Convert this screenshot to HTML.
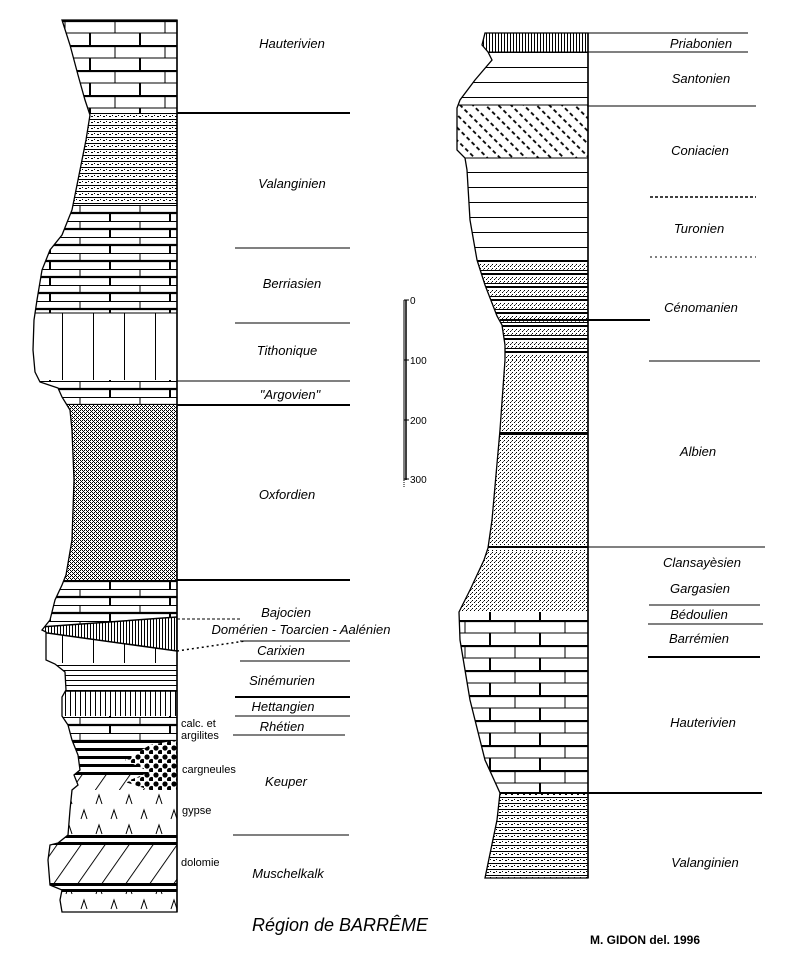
<!DOCTYPE html>
<html><head><meta charset="utf-8"><style>
html,body{margin:0;padding:0;background:#fff;}
svg{display:block;}
text{font-family:"Liberation Sans",sans-serif;}
.l{font-style:italic;font-size:13px;text-anchor:middle;}
.s{font-size:11px;}
</style></head><body>
<svg width="788" height="959" viewBox="0 0 788 959" xmlns="http://www.w3.org/2000/svg">
<defs>
<pattern id="brick" patternUnits="userSpaceOnUse" width="100" height="25" x="0" y="20">
<rect width="100" height="25" fill="#fff"/>
<line x1="0" y1="1" x2="100" y2="1" stroke="#000" stroke-width="2.2"/>
<line x1="0" y1="13" x2="100" y2="13" stroke="#000" stroke-width="1"/>
<line x1="40" y1="13" x2="40" y2="25" stroke="#000" stroke-width="2"/>
<line x1="90" y1="13" x2="90" y2="25" stroke="#000" stroke-width="2"/>
<line x1="15" y1="1" x2="15" y2="13" stroke="#000" stroke-width="1"/>
<line x1="65" y1="1" x2="65" y2="13" stroke="#000" stroke-width="1"/>
</pattern>
<pattern id="brick2" patternUnits="userSpaceOnUse" width="60" height="16" x="0" y="205">
<rect width="60" height="16" fill="#fff"/>
<line x1="0" y1="0.5" x2="60" y2="0.5" stroke="#000" stroke-width="1"/>
<line x1="0" y1="8" x2="60" y2="8" stroke="#000" stroke-width="2.2"/>
<line x1="20" y1="0" x2="20" y2="8" stroke="#000" stroke-width="1"/>
<line x1="50" y1="8" x2="50" y2="16" stroke="#000" stroke-width="2"/>
</pattern>
<pattern id="marl" patternUnits="userSpaceOnUse" width="6" height="6" x="0" y="113">
<rect width="6" height="6" fill="#fff"/>
<line x1="0" y1="0.5" x2="6" y2="0.5" stroke="#000" stroke-width="1"/>
<rect x="1" y="3" width="2" height="1" fill="#000"/>
<rect x="4" y="2" width="1" height="1" fill="#000"/>
</pattern>
<pattern id="gray" patternUnits="userSpaceOnUse" width="4" height="4">
<rect width="4" height="4" fill="#fff"/>
<rect x="0" y="0" width="1" height="1" fill="#000"/>
<rect x="1" y="1" width="1" height="1" fill="#000"/>
<rect x="2" y="2" width="1" height="1" fill="#000"/>
<rect x="3" y="3" width="1" height="1" fill="#000"/>
<rect x="2" y="0" width="1" height="1" fill="#000"/>
<rect x="0" y="2" width="1" height="1" fill="#000"/>
</pattern>
<pattern id="sand" patternUnits="userSpaceOnUse" width="4" height="4">
<rect width="4" height="4" fill="#fff"/>
<rect x="0" y="0" width="1" height="1" fill="#000"/>
<rect x="2" y="2" width="1" height="1" fill="#000"/>
<rect x="3" y="1" width="1" height="1" fill="#555"/>
</pattern>
<pattern id="bands" patternUnits="userSpaceOnUse" width="8" height="13" x="0" y="260">
<rect width="8" height="13" fill="#fff"/>
<rect x="0" y="3" width="8" height="7" fill="url(#sand)"/>
<line x1="0" y1="1" x2="8" y2="1" stroke="#000" stroke-width="2"/>
<line x1="0" y1="10.5" x2="8" y2="10.5" stroke="#000" stroke-width="1"/>
</pattern>
<pattern id="hlines" patternUnits="userSpaceOnUse" width="10" height="15" x="0" y="7">
<rect width="10" height="15" fill="#fff"/>
<line x1="0" y1="0.5" x2="10" y2="0.5" stroke="#000" stroke-width="1"/>
</pattern>
<pattern id="hl5" patternUnits="userSpaceOnUse" width="10" height="5">
<rect width="10" height="5" fill="#fff"/>
<line x1="0" y1="0.5" x2="10" y2="0.5" stroke="#000" stroke-width="1"/>
</pattern>
<pattern id="vlines" patternUnits="userSpaceOnUse" width="31" height="10" x="0" y="0">
<rect width="31" height="10" fill="#fff"/>
<line x1="0.5" y1="0" x2="0.5" y2="10" stroke="#000" stroke-width="1"/>
</pattern>
<pattern id="vdense" patternUnits="userSpaceOnUse" width="5" height="10">
<rect width="5" height="10" fill="#fff"/>
<line x1="0.5" y1="0" x2="0.5" y2="10" stroke="#000" stroke-width="1"/>
</pattern>
<pattern id="vdense3" patternUnits="userSpaceOnUse" width="3" height="10">
<rect width="3" height="10" fill="#fff"/>
<line x1="0.5" y1="0" x2="0.5" y2="10" stroke="#000" stroke-width="1"/>
</pattern>
<pattern id="diagdash" patternUnits="userSpaceOnUse" width="14" height="9" patternTransform="rotate(45)">
<rect width="14" height="9" fill="#fff"/>
<line x1="0" y1="1" x2="4" y2="1" stroke="#000" stroke-width="1.8"/>
<line x1="7" y1="1" x2="11" y2="1" stroke="#000" stroke-width="1.8"/>
</pattern>
<pattern id="dolo" patternUnits="userSpaceOnUse" width="24" height="40" patternTransform="skewX(-35)">
<rect width="24" height="40" fill="#fff"/>
<line x1="0.5" y1="0" x2="0.5" y2="40" stroke="#000" stroke-width="1.3"/>
</pattern>
<pattern id="gyps" patternUnits="userSpaceOnUse" width="30" height="30" x="62" y="790">
<rect width="30" height="30" fill="#fff"/>
<path d="M4 14 L7 5 L10 14 M19 29 L22 20 L25 29" stroke="#000" stroke-width="1" fill="none"/>
</pattern>
<pattern id="thickb" patternUnits="userSpaceOnUse" width="10" height="8" x="0" y="740">
<rect width="10" height="8" fill="#fff"/>
<rect y="0" width="10" height="3" fill="#000"/>
</pattern>
<pattern id="dots" patternUnits="userSpaceOnUse" width="9" height="9" x="0" y="745">
<rect width="9" height="9" fill="#fff"/>
<circle cx="3" cy="3" r="2.6" fill="#000"/>
<circle cx="7.5" cy="7.5" r="2.6" fill="#000"/>
</pattern>
<clipPath id="cl"><polygon points="177,20 177,912 62,912 60,900 62,890 50,885 48,860 50,845 58,843 68,835 70,810 72,790 78,785 74,775 80,770 78,755 72,740 68,725 62,716 62,697 66,690 65,672 55,664 46,660 46,632 42,630 50,620 55,600 62,585 66,575 72,540 74,480 72,430 70,410 62,397 58,388 40,382 35,372 33,350 34,320 37,300 42,270 50,250 62,235 72,210 80,170 86,140 90,115 85,100 78,75 70,45 62,20"/></clipPath>
<clipPath id="cr"><polygon points="588,33 485,33 482,45 488,52 492,60 475,80 460,100 457,108 457,150 465,158 467,170 470,220 477,260 485,285 497,316 502,325 505,345 505,360 500,430 492,520 488,548 484,560 470,590 459,612 460,640 470,700 485,760 500,793 497,820 485,878 588,878"/></clipPath>
</defs>

<!-- LEFT COLUMN -->
<g clip-path="url(#cl)">
<rect x="0" y="20" width="178" height="93" fill="url(#brick)"/>
<rect x="0" y="113" width="178" height="92" fill="url(#marl)"/>
<rect x="0" y="205" width="178" height="108" fill="url(#brick2)"/>
<rect x="0" y="313" width="178" height="67" fill="url(#vlines)"/>
<line x1="0" y1="313" x2="178" y2="313" stroke="#000"/>
<rect x="0" y="380" width="178" height="25" fill="url(#brick2)"/>
<rect x="0" y="405" width="178" height="175" fill="url(#gray)"/>
<rect x="0" y="580" width="178" height="45" fill="url(#brick2)"/>
<rect x="0" y="625" width="178" height="40" fill="url(#vlines)"/>
<polygon points="40,627 177,617 177,651 40,632" fill="url(#vdense3)" stroke="#000" stroke-width="1.5"/>
<rect x="0" y="663" width="178" height="28" fill="url(#hl5)"/>
<rect x="0" y="691" width="178" height="25" fill="url(#vdense)"/>
<line x1="0" y1="691" x2="178" y2="691" stroke="#000" stroke-width="1.5"/>
<rect x="0" y="716" width="178" height="24" fill="url(#brick2)"/>
<rect x="0" y="740" width="178" height="38" fill="url(#thickb)"/>
<rect x="0" y="775" width="178" height="15" fill="url(#dolo)"/>
<polygon points="125,760 150,745 177,740 177,790 150,790 125,782 150,772" fill="url(#dots)"/>
<rect x="0" y="790" width="178" height="45" fill="url(#gyps)"/>
<rect x="0" y="835" width="178" height="3" fill="#000"/>
<rect x="0" y="842" width="178" height="3" fill="#000"/>
<rect x="0" y="845" width="178" height="38" fill="url(#dolo)"/>
<rect x="0" y="883" width="178" height="3" fill="#000"/>
<rect x="0" y="889" width="178" height="3" fill="#000"/>
<rect x="0" y="892" width="178" height="20" fill="url(#gyps)"/>
</g>
<polygon points="177,20 177,912 62,912 60,900 62,890 50,885 48,860 50,845 58,843 68,835 70,810 72,790 78,785 74,775 80,770 78,755 72,740 68,725 62,716 62,697 66,690 65,672 55,664 46,660 46,632 42,630 50,620 55,600 62,585 66,575 72,540 74,480 72,430 70,410 62,397 58,388 40,382 35,372 33,350 34,320 37,300 42,270 50,250 62,235 72,210 80,170 86,140 90,115 85,100 78,75 70,45 62,20" fill="none" stroke="#000" stroke-width="1.3"/>
<line x1="177" y1="20" x2="177" y2="912" stroke="#000" stroke-width="1.5"/>

<!-- left horizon lines -->
<g stroke="#000">
<line x1="177" y1="113" x2="350" y2="113" stroke-width="2"/>
<line x1="235" y1="248" x2="350" y2="248"/>
<line x1="235" y1="323" x2="350" y2="323"/>
<line x1="177" y1="381" x2="350" y2="381"/>
<line x1="177" y1="405" x2="350" y2="405" stroke-width="2"/>
<line x1="177" y1="580" x2="350" y2="580" stroke-width="2"/>
<line x1="177" y1="619" x2="240" y2="619" stroke-dasharray="3,2"/>
<line x1="177" y1="651" x2="245" y2="641" stroke-dasharray="2,3" stroke-width="1.5"/>
<line x1="240" y1="641" x2="350" y2="641"/>
<line x1="240" y1="661" x2="350" y2="661"/>
<line x1="235" y1="697" x2="350" y2="697" stroke-width="2"/>
<line x1="235" y1="716" x2="350" y2="716"/>
<line x1="233" y1="735" x2="345" y2="735"/>
<line x1="233" y1="835" x2="349" y2="835"/>
</g>
<g class="l">
<text x="292" y="48">Hauterivien</text>
<text x="292" y="188">Valanginien</text>
<text x="292" y="288">Berriasien</text>
<text x="287" y="355">Tithonique</text>
<text x="290" y="399">"Argovien"</text>
<text x="287" y="499">Oxfordien</text>
<text x="286" y="617">Bajocien</text>
<text x="301" y="634">Domérien - Toarcien - Aalénien</text>
<text x="281" y="655">Carixien</text>
<text x="282" y="685">Sinémurien</text>
<text x="283" y="711">Hettangien</text>
<text x="282" y="731">Rhétien</text>
<text x="286" y="786">Keuper</text>
<text x="288" y="878">Muschelkalk</text>
</g>
<g class="s">
<text x="181" y="727">calc. et</text>
<text x="181" y="739">argilites</text>
<text x="182" y="773">cargneules</text>
<text x="182" y="814">gypse</text>
<text x="181" y="866">dolomie</text>
</g>

<!-- scale -->
<g stroke="#000">
<line x1="404" y1="300" x2="404" y2="480"/>
<line x1="406" y1="300" x2="406" y2="480" stroke-width="1.5"/>
<line x1="404" y1="300" x2="409" y2="300"/>
<line x1="404" y1="360" x2="409" y2="360"/>
<line x1="404" y1="420" x2="409" y2="420"/>
<line x1="404" y1="479" x2="409" y2="479"/>
<line x1="404" y1="480" x2="404" y2="488" stroke-dasharray="1,1"/>
</g>
<g font-size="10">
<text x="410" y="304">0</text>
<text x="410" y="364">100</text>
<text x="410" y="424">200</text>
<text x="410" y="483">300</text>
</g>

<!-- RIGHT COLUMN -->
<g clip-path="url(#cr)">
<rect x="440" y="33" width="150" height="19" fill="url(#vdense3)"/>
<rect x="440" y="52" width="150" height="53" fill="url(#hlines)"/>
<rect x="440" y="105" width="150" height="53" fill="url(#diagdash)"/>
<rect x="440" y="158" width="150" height="102" fill="url(#hlines)"/>
<rect x="440" y="260" width="150" height="100" fill="url(#bands)"/>
<rect x="440" y="360" width="150" height="185" fill="url(#sand)"/>
<rect x="440" y="432" width="150" height="3" fill="#000"/>
<rect x="440" y="545" width="150" height="6" fill="url(#bands)"/>
<rect x="440" y="551" width="150" height="61" fill="url(#sand)"/>
<rect x="440" y="612" width="150" height="181" fill="url(#brick)"/>
<rect x="440" y="793" width="150" height="85" fill="url(#marl)"/>
<g stroke="#000">
<line x1="440" y1="52" x2="588" y2="52"/>
<line x1="440" y1="105" x2="588" y2="105"/>
<line x1="440" y1="158" x2="588" y2="158"/>
<line x1="440" y1="793" x2="588" y2="793" stroke-width="2"/>
</g>
</g>
<polygon points="588,33 485,33 482,45 488,52 492,60 475,80 460,100 457,108 457,150 465,158 467,170 470,220 477,260 485,285 497,316 502,325 505,345 505,360 500,430 492,520 488,548 484,560 470,590 459,612 460,640 470,700 485,760 500,793 497,820 485,878 588,878" fill="none" stroke="#000" stroke-width="1.3"/>
<line x1="588" y1="33" x2="588" y2="878" stroke="#000" stroke-width="1.5"/>

<g stroke="#000">
<line x1="588" y1="33" x2="748" y2="33"/>
<line x1="588" y1="52" x2="748" y2="52"/>
<line x1="588" y1="106" x2="756" y2="106"/>
<line x1="650" y1="197" x2="756" y2="197" stroke-width="1.5" stroke-dasharray="3,2"/>
<line x1="650" y1="257" x2="756" y2="257" stroke-dasharray="2,3"/>
<line x1="500" y1="320" x2="650" y2="320" stroke-width="2"/>
<line x1="649" y1="361" x2="760" y2="361"/>
<line x1="588" y1="547" x2="765" y2="547"/>
<line x1="649" y1="605" x2="760" y2="605"/>
<line x1="648" y1="624" x2="763" y2="624"/>
<line x1="648" y1="657" x2="760" y2="657" stroke-width="2"/>
<line x1="588" y1="793" x2="762" y2="793" stroke-width="2"/>
</g>
<g class="l">
<text x="701" y="48">Priabonien</text>
<text x="701" y="83">Santonien</text>
<text x="700" y="155">Coniacien</text>
<text x="699" y="233">Turonien</text>
<text x="701" y="312">Cénomanien</text>
<text x="698" y="456">Albien</text>
<text x="702" y="567">Clansayèsien</text>
<text x="700" y="593">Gargasien</text>
<text x="699" y="619">Bédoulien</text>
<text x="699" y="643">Barrémien</text>
<text x="703" y="727">Hauterivien</text>
<text x="705" y="867">Valanginien</text>
</g>
<text x="340" y="931" font-size="18" font-style="italic" text-anchor="middle">Région de BARRÊME</text>
<text x="590" y="944" font-size="12" font-weight="bold" style="font-family:'Liberation Sans Narrow','Liberation Sans',sans-serif">M. GIDON  del.  1996</text>
</svg>
</body></html>
